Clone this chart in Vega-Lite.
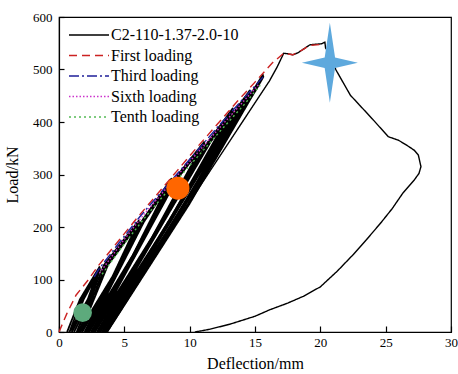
{
  "$schema": "https://vega.github.io/schema/vega-lite/v6.json",
  "width": 392,
  "height": 315,
  "autosize": "none",
  "padding": {"left": 59, "top": 17, "right": 7, "bottom": 42},
  "background": "white",
  "config": {
    "view": {"stroke": "#000", "strokeWidth": 1.2},
    "axis": {
      "domainColor": "#000", "domainWidth": 1.2, "tickColor": "#000", "tickWidth": 1.2,
      "labelFont": "Liberation Serif", "labelFontSize": 13, "labelColor": "#000",
      "titleFont": "Liberation Serif", "titleFontSize": 16, "titleFontWeight": "normal", "titleColor": "#000",
      "grid": false
    },
    "legend": {
      "labelFont": "Liberation Serif", "labelFontSize": 16, "labelColor": "#000"
    }
  },
  "datasets": {
    "loops": [
      {"s": "C2-110-1.37-2.0-10", "b": 1, "o": 1, "x": 0.62, "y": 0},
      {"s": "C2-110-1.37-2.0-10", "b": 1, "o": 2, "x": 1.6, "y": 62},
      {"s": "C2-110-1.37-2.0-10", "b": 1, "o": 3, "x": 3.1, "y": 124},
      {"s": "C2-110-1.37-2.0-10", "b": 1, "o": 4, "x": 2.2, "y": 62},
      {"s": "C2-110-1.37-2.0-10", "b": 1, "o": 5, "x": 0.8, "y": 0},
      {"s": "C2-110-1.37-2.0-10", "b": 1, "o": 6, "x": 1.74, "y": 62},
      {"s": "C2-110-1.37-2.0-10", "b": 1, "o": 7, "x": 3.12, "y": 122},
      {"s": "C2-110-1.37-2.0-10", "b": 1, "o": 8, "x": 2.3, "y": 61},
      {"s": "C2-110-1.37-2.0-10", "b": 1, "o": 9, "x": 0.98, "y": 0},
      {"s": "C2-110-1.37-2.0-10", "b": 1, "o": 10, "x": 1.88, "y": 62},
      {"s": "C2-110-1.37-2.0-10", "b": 1, "o": 11, "x": 3.14, "y": 120},
      {"s": "C2-110-1.37-2.0-10", "b": 1, "o": 12, "x": 2.4, "y": 60},
      {"s": "C2-110-1.37-2.0-10", "b": 1, "o": 13, "x": 1.15, "y": 0},

      {"s": "C2-110-1.37-2.0-10", "b": 2, "o": 1, "x": 1.35, "y": 0},
      {"s": "C2-110-1.37-2.0-10", "b": 2, "o": 2, "x": 3.45, "y": 128},
      {"s": "C2-110-1.37-2.0-10", "b": 2, "o": 3, "x": 6.1, "y": 212},
      {"s": "C2-110-1.37-2.0-10", "b": 2, "o": 4, "x": 4.1, "y": 106},
      {"s": "C2-110-1.37-2.0-10", "b": 2, "o": 5, "x": 1.5, "y": 0},
      {"s": "C2-110-1.37-2.0-10", "b": 2, "o": 6, "x": 3.6, "y": 128},
      {"s": "C2-110-1.37-2.0-10", "b": 2, "o": 7, "x": 6.12, "y": 210},
      {"s": "C2-110-1.37-2.0-10", "b": 2, "o": 8, "x": 4.19, "y": 105},
      {"s": "C2-110-1.37-2.0-10", "b": 2, "o": 9, "x": 1.65, "y": 0},
      {"s": "C2-110-1.37-2.0-10", "b": 2, "o": 10, "x": 3.75, "y": 128},
      {"s": "C2-110-1.37-2.0-10", "b": 2, "o": 11, "x": 6.14, "y": 208},
      {"s": "C2-110-1.37-2.0-10", "b": 2, "o": 12, "x": 4.26, "y": 104},
      {"s": "C2-110-1.37-2.0-10", "b": 2, "o": 13, "x": 1.78, "y": 0},

      {"s": "C2-110-1.37-2.0-10", "b": 3, "o": 1, "x": 1.95, "y": 0},
      {"s": "C2-110-1.37-2.0-10", "b": 3, "o": 2, "x": 6.3, "y": 210},
      {"s": "C2-110-1.37-2.0-10", "b": 3, "o": 3, "x": 8.6, "y": 292},
      {"s": "C2-110-1.37-2.0-10", "b": 3, "o": 4, "x": 5.64, "y": 146},
      {"s": "C2-110-1.37-2.0-10", "b": 3, "o": 5, "x": 2.08, "y": 0},
      {"s": "C2-110-1.37-2.0-10", "b": 3, "o": 6, "x": 6.4, "y": 210},
      {"s": "C2-110-1.37-2.0-10", "b": 3, "o": 7, "x": 8.62, "y": 290},
      {"s": "C2-110-1.37-2.0-10", "b": 3, "o": 8, "x": 5.71, "y": 145},
      {"s": "C2-110-1.37-2.0-10", "b": 3, "o": 9, "x": 2.2, "y": 0},
      {"s": "C2-110-1.37-2.0-10", "b": 3, "o": 10, "x": 6.5, "y": 210},
      {"s": "C2-110-1.37-2.0-10", "b": 3, "o": 11, "x": 8.64, "y": 288},
      {"s": "C2-110-1.37-2.0-10", "b": 3, "o": 12, "x": 5.78, "y": 144},
      {"s": "C2-110-1.37-2.0-10", "b": 3, "o": 13, "x": 2.32, "y": 0},

      {"s": "C2-110-1.37-2.0-10", "b": 4, "o": 1, "x": 2.45, "y": 0},
      {"s": "C2-110-1.37-2.0-10", "b": 4, "o": 2, "x": 8.8, "y": 290},
      {"s": "C2-110-1.37-2.0-10", "b": 4, "o": 3, "x": 11.1, "y": 362},
      {"s": "C2-110-1.37-2.0-10", "b": 4, "o": 4, "x": 7.13, "y": 181},
      {"s": "C2-110-1.37-2.0-10", "b": 4, "o": 5, "x": 2.56, "y": 0},
      {"s": "C2-110-1.37-2.0-10", "b": 4, "o": 6, "x": 8.9, "y": 290},
      {"s": "C2-110-1.37-2.0-10", "b": 4, "o": 7, "x": 11.12, "y": 360},
      {"s": "C2-110-1.37-2.0-10", "b": 4, "o": 8, "x": 7.19, "y": 180},
      {"s": "C2-110-1.37-2.0-10", "b": 4, "o": 9, "x": 2.66, "y": 0},
      {"s": "C2-110-1.37-2.0-10", "b": 4, "o": 10, "x": 9.0, "y": 290},
      {"s": "C2-110-1.37-2.0-10", "b": 4, "o": 11, "x": 11.14, "y": 358},
      {"s": "C2-110-1.37-2.0-10", "b": 4, "o": 12, "x": 7.25, "y": 179},
      {"s": "C2-110-1.37-2.0-10", "b": 4, "o": 13, "x": 2.76, "y": 0},

      {"s": "C2-110-1.37-2.0-10", "b": 5, "o": 1, "x": 2.9, "y": 0},
      {"s": "C2-110-1.37-2.0-10", "b": 5, "o": 2, "x": 11.4, "y": 362},
      {"s": "C2-110-1.37-2.0-10", "b": 5, "o": 3, "x": 13.3, "y": 426},
      {"s": "C2-110-1.37-2.0-10", "b": 5, "o": 4, "x": 8.45, "y": 213},
      {"s": "C2-110-1.37-2.0-10", "b": 5, "o": 5, "x": 3.0, "y": 0},
      {"s": "C2-110-1.37-2.0-10", "b": 5, "o": 6, "x": 11.5, "y": 362},
      {"s": "C2-110-1.37-2.0-10", "b": 5, "o": 7, "x": 13.32, "y": 424},
      {"s": "C2-110-1.37-2.0-10", "b": 5, "o": 8, "x": 8.5, "y": 212},
      {"s": "C2-110-1.37-2.0-10", "b": 5, "o": 9, "x": 3.08, "y": 0},
      {"s": "C2-110-1.37-2.0-10", "b": 5, "o": 10, "x": 11.6, "y": 362},
      {"s": "C2-110-1.37-2.0-10", "b": 5, "o": 11, "x": 13.34, "y": 422},
      {"s": "C2-110-1.37-2.0-10", "b": 5, "o": 12, "x": 8.55, "y": 211},
      {"s": "C2-110-1.37-2.0-10", "b": 5, "o": 13, "x": 3.16, "y": 0},

      {"s": "C2-110-1.37-2.0-10", "b": 6, "o": 1, "x": 3.26, "y": 0},
      {"s": "C2-110-1.37-2.0-10", "b": 6, "o": 2, "x": 13.6, "y": 426},
      {"s": "C2-110-1.37-2.0-10", "b": 6, "o": 3, "x": 14.6, "y": 460},
      {"s": "C2-110-1.37-2.0-10", "b": 6, "o": 4, "x": 9.27, "y": 230},
      {"s": "C2-110-1.37-2.0-10", "b": 6, "o": 5, "x": 3.33, "y": 0},
      {"s": "C2-110-1.37-2.0-10", "b": 6, "o": 6, "x": 13.7, "y": 426},
      {"s": "C2-110-1.37-2.0-10", "b": 6, "o": 7, "x": 14.62, "y": 458},
      {"s": "C2-110-1.37-2.0-10", "b": 6, "o": 8, "x": 9.31, "y": 229},
      {"s": "C2-110-1.37-2.0-10", "b": 6, "o": 9, "x": 3.4, "y": 0},
      {"s": "C2-110-1.37-2.0-10", "b": 6, "o": 10, "x": 13.8, "y": 426},
      {"s": "C2-110-1.37-2.0-10", "b": 6, "o": 11, "x": 14.64, "y": 456},
      {"s": "C2-110-1.37-2.0-10", "b": 6, "o": 12, "x": 9.35, "y": 228},
      {"s": "C2-110-1.37-2.0-10", "b": 6, "o": 13, "x": 3.46, "y": 0},

      {"s": "C2-110-1.37-2.0-10", "b": 7, "o": 1, "x": 3.52, "y": 0},
      {"s": "C2-110-1.37-2.0-10", "b": 7, "o": 2, "x": 14.85, "y": 460},
      {"s": "C2-110-1.37-2.0-10", "b": 7, "o": 3, "x": 15.6, "y": 490},
      {"s": "C2-110-1.37-2.0-10", "b": 7, "o": 4, "x": 9.89, "y": 245},
      {"s": "C2-110-1.37-2.0-10", "b": 7, "o": 5, "x": 3.58, "y": 0},
      {"s": "C2-110-1.37-2.0-10", "b": 7, "o": 6, "x": 14.95, "y": 460},
      {"s": "C2-110-1.37-2.0-10", "b": 7, "o": 7, "x": 15.62, "y": 488},
      {"s": "C2-110-1.37-2.0-10", "b": 7, "o": 8, "x": 9.93, "y": 244},
      {"s": "C2-110-1.37-2.0-10", "b": 7, "o": 9, "x": 3.63, "y": 0},
      {"s": "C2-110-1.37-2.0-10", "b": 7, "o": 10, "x": 15.05, "y": 460},
      {"s": "C2-110-1.37-2.0-10", "b": 7, "o": 11, "x": 15.64, "y": 486},
      {"s": "C2-110-1.37-2.0-10", "b": 7, "o": 12, "x": 9.96, "y": 243},
      {"s": "C2-110-1.37-2.0-10", "b": 7, "o": 13, "x": 3.68, "y": 0}
    ],
    "lines": [
      {"s": "C2-110-1.37-2.0-10", "o": 1, "x": 3.68, "y": 0},
      {"s": "C2-110-1.37-2.0-10", "o": 2, "x": 10.0, "y": 248},
      {"s": "C2-110-1.37-2.0-10", "o": 3, "x": 16.1, "y": 478},
      {"s": "C2-110-1.37-2.0-10", "o": 4, "x": 16.7, "y": 505},
      {"s": "C2-110-1.37-2.0-10", "o": 5, "x": 17.2, "y": 531},
      {"s": "C2-110-1.37-2.0-10", "o": 6, "x": 17.5, "y": 530},
      {"s": "C2-110-1.37-2.0-10", "o": 7, "x": 17.9, "y": 528},
      {"s": "C2-110-1.37-2.0-10", "o": 8, "x": 18.3, "y": 532},
      {"s": "C2-110-1.37-2.0-10", "o": 9, "x": 18.6, "y": 537},
      {"s": "C2-110-1.37-2.0-10", "o": 10, "x": 19.2, "y": 547},
      {"s": "C2-110-1.37-2.0-10", "o": 11, "x": 19.6, "y": 548},
      {"s": "C2-110-1.37-2.0-10", "o": 12, "x": 20.1, "y": 549},
      {"s": "C2-110-1.37-2.0-10", "o": 13, "x": 20.35, "y": 552},
      {"s": "C2-110-1.37-2.0-10", "o": 14, "x": 20.4, "y": 541},
      {"s": "C2-110-1.37-2.0-10", "o": 15, "x": 20.7, "y": 530},
      {"s": "C2-110-1.37-2.0-10", "o": 16, "x": 21.2, "y": 499},
      {"s": "C2-110-1.37-2.0-10", "o": 17, "x": 22.3, "y": 451},
      {"s": "C2-110-1.37-2.0-10", "o": 18, "x": 24.05, "y": 404},
      {"s": "C2-110-1.37-2.0-10", "o": 19, "x": 25.2, "y": 372},
      {"s": "C2-110-1.37-2.0-10", "o": 20, "x": 26.0, "y": 365},
      {"s": "C2-110-1.37-2.0-10", "o": 21, "x": 26.6, "y": 356},
      {"s": "C2-110-1.37-2.0-10", "o": 22, "x": 27.2, "y": 346},
      {"s": "C2-110-1.37-2.0-10", "o": 23, "x": 27.5, "y": 337},
      {"s": "C2-110-1.37-2.0-10", "o": 24, "x": 27.7, "y": 315},
      {"s": "C2-110-1.37-2.0-10", "o": 25, "x": 27.55, "y": 302},
      {"s": "C2-110-1.37-2.0-10", "o": 26, "x": 27.2, "y": 290},
      {"s": "C2-110-1.37-2.0-10", "o": 27, "x": 26.3, "y": 264},
      {"s": "C2-110-1.37-2.0-10", "o": 28, "x": 25.5, "y": 235},
      {"s": "C2-110-1.37-2.0-10", "o": 29, "x": 24.6, "y": 207},
      {"s": "C2-110-1.37-2.0-10", "o": 30, "x": 23.5, "y": 175},
      {"s": "C2-110-1.37-2.0-10", "o": 31, "x": 22.5, "y": 147},
      {"s": "C2-110-1.37-2.0-10", "o": 32, "x": 21.3, "y": 116},
      {"s": "C2-110-1.37-2.0-10", "o": 33, "x": 20.0, "y": 86},
      {"s": "C2-110-1.37-2.0-10", "o": 34, "x": 18.7, "y": 68},
      {"s": "C2-110-1.37-2.0-10", "o": 35, "x": 17.5, "y": 55},
      {"s": "C2-110-1.37-2.0-10", "o": 36, "x": 16.1, "y": 42},
      {"s": "C2-110-1.37-2.0-10", "o": 37, "x": 15.0, "y": 30},
      {"s": "C2-110-1.37-2.0-10", "o": 38, "x": 13.1, "y": 15},
      {"s": "C2-110-1.37-2.0-10", "o": 39, "x": 11.5, "y": 5},
      {"s": "C2-110-1.37-2.0-10", "o": 40, "x": 10.4, "y": 0},

      {"s": "First loading", "o": 1, "x": 0, "y": 0},
      {"s": "First loading", "o": 2, "x": 0.6, "y": 35},
      {"s": "First loading", "o": 3, "x": 1.3, "y": 70},
      {"s": "First loading", "o": 4, "x": 2.2, "y": 98},
      {"s": "First loading", "o": 5, "x": 3.0, "y": 126},
      {"s": "First loading", "o": 6, "x": 4.5, "y": 172},
      {"s": "First loading", "o": 7, "x": 6.0, "y": 218},
      {"s": "First loading", "o": 8, "x": 7.5, "y": 262},
      {"s": "First loading", "o": 9, "x": 9.0, "y": 306},
      {"s": "First loading", "o": 10, "x": 10.5, "y": 350},
      {"s": "First loading", "o": 11, "x": 12.2, "y": 398},
      {"s": "First loading", "o": 12, "x": 13.6, "y": 438},
      {"s": "First loading", "o": 13, "x": 15.0, "y": 476},
      {"s": "First loading", "o": 14, "x": 16.3, "y": 512},
      {"s": "First loading", "o": 15, "x": 17.2, "y": 531},
      {"s": "First loading", "o": 16, "x": 17.9, "y": 528},
      {"s": "First loading", "o": 17, "x": 18.6, "y": 537},
      {"s": "First loading", "o": 18, "x": 19.2, "y": 546},
      {"s": "First loading", "o": 19, "x": 20.2, "y": 548},

      {"s": "Third loading", "o": 1, "x": 2.7, "y": 105},
      {"s": "Third loading", "o": 2, "x": 3.0, "y": 118},
      {"s": "Third loading", "o": 3, "x": 4.6, "y": 170},
      {"s": "Third loading", "o": 4, "x": 6.2, "y": 220},
      {"s": "Third loading", "o": 5, "x": 9.0, "y": 300},
      {"s": "Third loading", "o": 6, "x": 12.2, "y": 392},
      {"s": "Third loading", "o": 7, "x": 13.8, "y": 436},
      {"s": "Third loading", "o": 8, "x": 15.2, "y": 474},
      {"s": "Third loading", "o": 9, "x": 15.7, "y": 488},

      {"s": "Sixth loading", "o": 1, "x": 3.1, "y": 112},
      {"s": "Sixth loading", "o": 2, "x": 4.8, "y": 170},
      {"s": "Sixth loading", "o": 3, "x": 6.5, "y": 224},
      {"s": "Sixth loading", "o": 4, "x": 9.2, "y": 302},
      {"s": "Sixth loading", "o": 5, "x": 12.4, "y": 392},
      {"s": "Sixth loading", "o": 6, "x": 14.0, "y": 436},
      {"s": "Sixth loading", "o": 7, "x": 15.3, "y": 472},

      {"s": "Tenth loading", "o": 1, "x": 3.3, "y": 110},
      {"s": "Tenth loading", "o": 2, "x": 5.0, "y": 168},
      {"s": "Tenth loading", "o": 3, "x": 6.7, "y": 222},
      {"s": "Tenth loading", "o": 4, "x": 9.4, "y": 300},
      {"s": "Tenth loading", "o": 5, "x": 12.6, "y": 390},
      {"s": "Tenth loading", "o": 6, "x": 14.2, "y": 434},
      {"s": "Tenth loading", "o": 7, "x": 15.4, "y": 470}
    ],
    "marks": [
      {"k": "star", "x": 20.73, "y": 513},
      {"k": "orange", "x": 9.1, "y": 274},
      {"k": "green", "x": 1.81, "y": 37}
    ]
  },
  "layer": [
    {
      "data": {"name": "loops"},
      "mark": {"type": "line", "strokeWidth": 1.8, "strokeJoin": "round"},
      "encoding": {
        "x": {"field": "x", "type": "quantitative", "scale": {"domain": [0, 30], "nice": false},
          "axis": {"title": "Deflection/mm", "values": [0, 2.5, 5, 7.5, 10, 12.5, 15, 17.5, 20, 22.5, 25, 27.5, 30],
            "labelExpr": "datum.value % 5 === 0 ? datum.label : ''",
            "tickSize": {"condition": {"test": "datum.value % 5 === 0", "value": -6}, "value": -3},
            "labelPadding": 10, "titlePadding": 6, "labelFlush": false}},
        "y": {"field": "y", "type": "quantitative", "scale": {"domain": [0, 600], "nice": false},
          "axis": {"title": "Load/kN", "values": [0, 50, 100, 150, 200, 250, 300, 350, 400, 450, 500, 550, 600],
            "labelExpr": "datum.value % 100 === 0 ? datum.label : ''",
            "tickSize": {"condition": {"test": "datum.value % 100 === 0", "value": -5}, "value": -3},
            "labelPadding": 12, "titlePadding": 12, "labelFlush": false}},
        "color": {"field": "s", "type": "nominal",
          "scale": {"domain": ["C2-110-1.37-2.0-10", "First loading", "Third loading", "Sixth loading", "Tenth loading"],
                    "range": ["#000000", "#cc2222", "#1f1f99", "#cc33cc", "#55bb55"]},
          "legend": {"title": null, "orient": "none", "legendX": 19, "legendY": 7, "symbolType": "M-2,0H2",
                     "symbolSize": 400, "symbolStrokeWidth": 1.5, "rowPadding": 1.5, "labelOffset": 11, "padding": 0}},
        "strokeDash": {"field": "s", "type": "nominal",
          "scale": {"domain": ["C2-110-1.37-2.0-10", "First loading", "Third loading", "Sixth loading", "Tenth loading"],
                    "range": [[1, 0], [8, 5], [10, 3, 2, 3], [1.5, 2], [2, 3]]},
          "legend": {"title": null, "orient": "none", "legendX": 19, "legendY": 7, "symbolType": "M-2,0H2",
                     "symbolSize": 400, "symbolStrokeWidth": 1.5, "rowPadding": 1.5, "labelOffset": 11, "padding": 0}},
        "detail": {"field": "b"},
        "order": {"field": "o", "type": "quantitative"}
      }
    },
    {
      "data": {"name": "lines"},
      "mark": {"type": "line", "strokeWidth": 1.4},
      "encoding": {
        "x": {"field": "x", "type": "quantitative"},
        "y": {"field": "y", "type": "quantitative"},
        "color": {"field": "s", "type": "nominal"},
        "strokeDash": {"field": "s", "type": "nominal"},
        "order": {"field": "o", "type": "quantitative"}
      }
    },
    {
      "data": {"name": "marks"},
      "transform": [{"filter": "datum.k === 'star'"}],
      "mark": {"type": "point", "filled": true, "opacity": 1, "color": "#5ea9dd", "size": 6400,
               "shape": "M0,-1L0.13,-0.13L0.7,0L0.13,0.13L0,1L-0.13,0.13L-0.7,0L-0.13,-0.13Z"},
      "encoding": {
        "x": {"field": "x", "type": "quantitative"},
        "y": {"field": "y", "type": "quantitative"}
      }
    },
    {
      "data": {"name": "marks"},
      "transform": [{"filter": "datum.k === 'orange'"}],
      "mark": {"type": "circle", "opacity": 1, "color": "#ff6600", "size": 530},
      "encoding": {
        "x": {"field": "x", "type": "quantitative"},
        "y": {"field": "y", "type": "quantitative"}
      }
    },
    {
      "data": {"name": "marks"},
      "transform": [{"filter": "datum.k === 'green'"}],
      "mark": {"type": "circle", "opacity": 1, "color": "#5daa7c", "size": 346},
      "encoding": {
        "x": {"field": "x", "type": "quantitative"},
        "y": {"field": "y", "type": "quantitative"}
      }
    }
  ]
}
